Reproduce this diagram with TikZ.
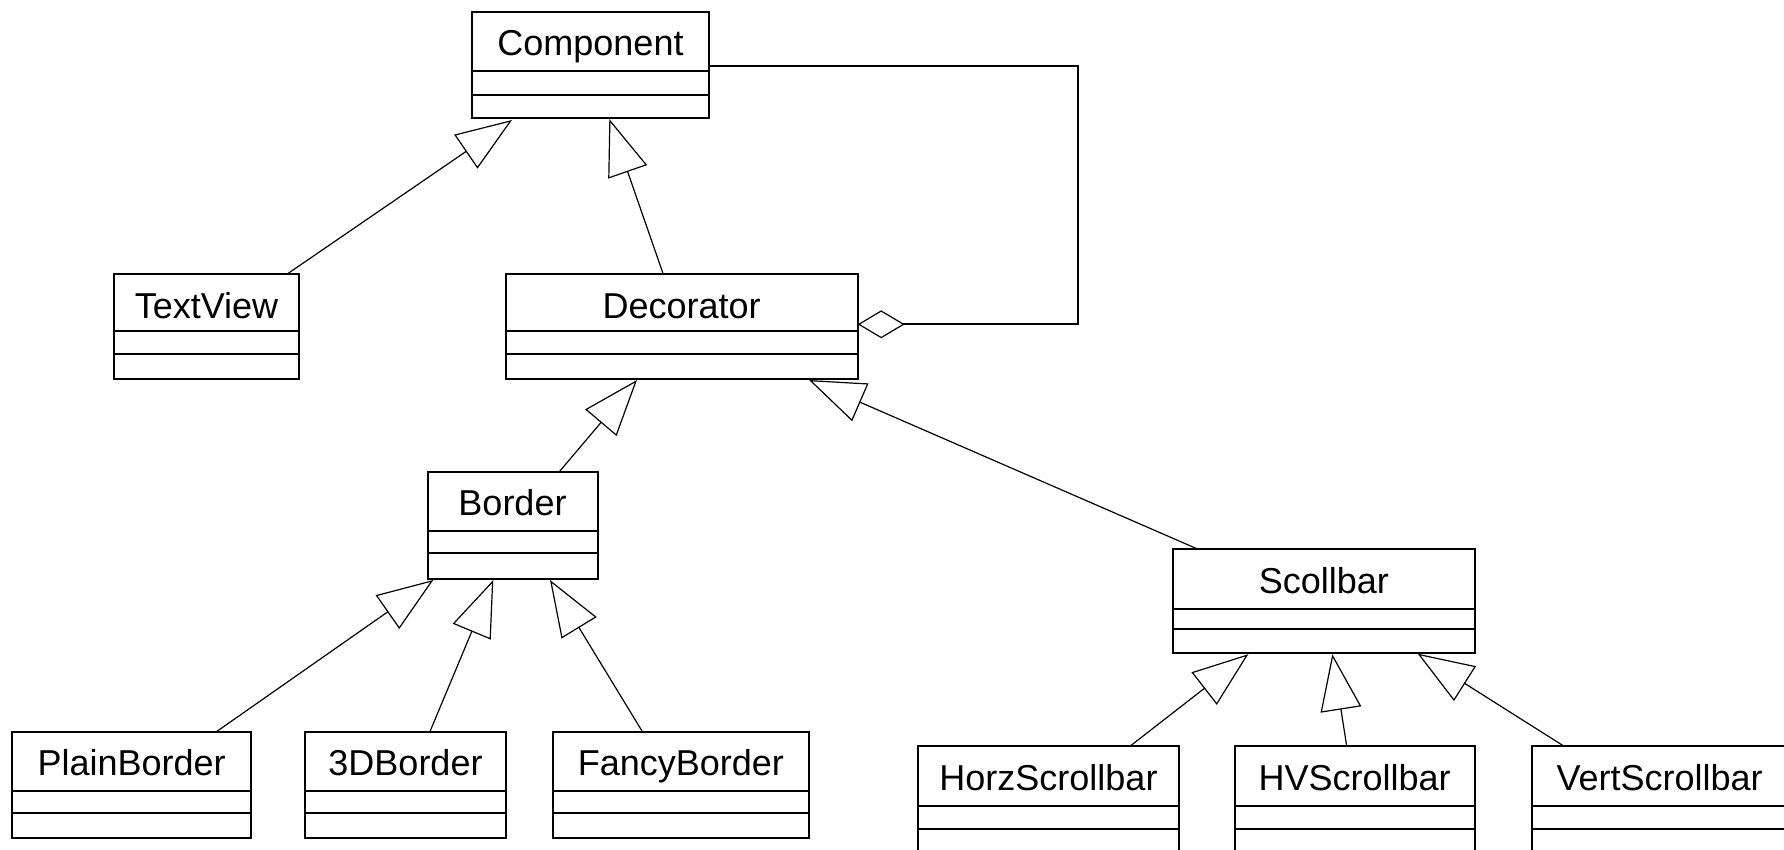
\documentclass[tikz,border=0pt]{standalone}
\usepackage{fontspec}
\setmainfont{Liberation Sans}
\usetikzlibrary{fit,calc,arrows.meta}
\tikzset{
  classbox/.style={draw, line width=1pt, inner sep=0pt, outer sep=0pt, fill=white},
  classtitle/.style={anchor=base, inner sep=0pt, font=\fontsize{18}{20}\selectfont},
  divider/.style={line width=1pt},
  gen/.style={line width=0.6pt, -{Triangle[open, length=28pt, width=20.5pt, line width=0.6pt]}},
  aggr/.style={line width=1pt, {Diamond[open, length=23.5pt, width=14pt, line width=0.6pt]}-}
}
\newcommand\umlclass[8]{%
  \node[classbox, fit={(#2,#3) (#4,#5)}] (#1) {};
  \node[classtitle] (#1-t) at ($(#1.north)+(0,44)$) {#8};
  \draw[divider] (#2,#6) -- (#4,#6);
  \draw[divider] (#2,#7) -- (#4,#7);
}
\begin{document}
\begin{tikzpicture}[x=0.5pt, y=-0.5pt]
\useasboundingbox (0,0) rectangle (1784,850);
\clip (0,0) rectangle (1784,850);
\fill[white] (0,0) rectangle (1784,850);

\umlclass{component}{472}{12}{709}{118}{71}{95}{Component}
\umlclass{textview}{113.8}{274.3}{299.2}{379}{331}{354.5}{TextView}
\umlclass{decorator}{505.7}{274.3}{857.7}{379}{331}{354.5}{Decorator}
\umlclass{border}{427.5}{471.5}{597.5}{579}{530.7}{552.7}{Border}
\umlclass{scollbar}{1173.3}{549.3}{1474.6}{652.7}{609}{629.3}{Scollbar}
\umlclass{plainborder}{12.3}{731.5}{251}{838.3}{790.7}{812.7}{PlainBorder}
\umlclass{threedborder}{305.3}{731.5}{505.7}{838.3}{790.7}{812.7}{3DBorder}
\umlclass{fancyborder}{552.5}{731.5}{809.3}{838.3}{790.7}{812.7}{FancyBorder}
\umlclass{horzscrollbar}{918.2}{746.2}{1178.8}{900}{805.7}{829.3}{HorzScrollbar}
\umlclass{hvscrollbar}{1234.5}{746.2}{1474.6}{900}{805.7}{829.3}{HVScrollbar}
\umlclass{vertscrollbar}{1532.3}{746.2}{1787}{900}{805.7}{829.3}{VertScrollbar}

% generalizations
\draw[gen] ($(textview.north west)+(173,0)$) -- ($(component.south west)+(40,2)$);
\draw[gen] ($(decorator.north west)+(157.6,0)$) -- ($(component.south west)+(137.3,1)$);
\draw[gen] ($(border.north west)+(132,0)$) -- ($(decorator.south west)+(131.3,1)$);
\draw[gen] ($(scollbar.north west)+(24.9,0)$) -- ($(decorator.south west)+(303.3,1)$);
\draw[gen] ($(plainborder.north west)+(204.4,0)$) -- ($(border.south west)+(5.8,1)$);
\draw[gen] ($(threedborder.north west)+(124.7,0)$) -- ($(border.south west)+(65.8,1)$);
\draw[gen] ($(fancyborder.north west)+(89.8,0)$) -- ($(border.south west)+(122.5,1)$);
\draw[gen] ($(horzscrollbar.north west)+(211.8,0)$) -- ($(scollbar.south west)+(75,1.5)$);
\draw[gen] ($(hvscrollbar.north west)+(112.2,0)$) -- ($(scollbar.south west)+(159,1.5)$);
\draw[gen] ($(vertscrollbar.north west)+(31.7,0)$) -- ($(scollbar.south west)+(244.4,1)$);

% aggregation
\coordinate (aggcorner) at ($(component.north east)+(369.3,312.3)$);
\draw[aggr] ($(decorator.north east)+(0,50)$) -| (aggcorner) |- ($(component.north east)+(0,53.7)$);
\end{tikzpicture}
\end{document}
